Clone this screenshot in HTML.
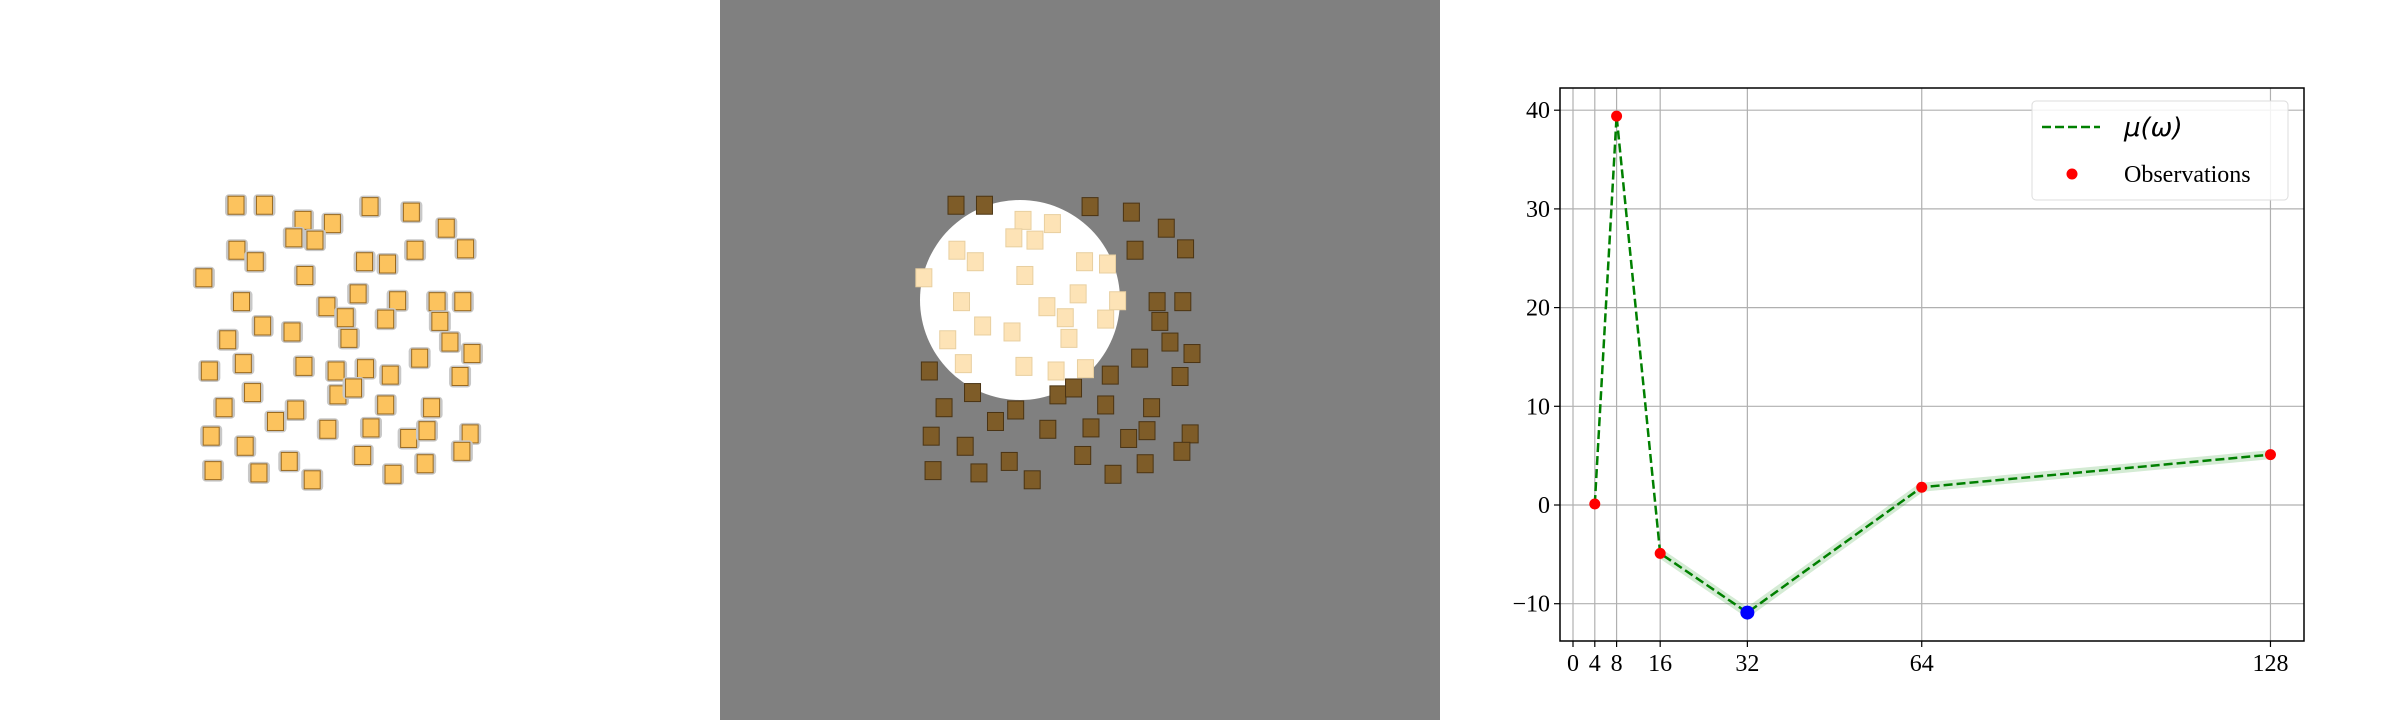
<!DOCTYPE html>
<html><head><meta charset="utf-8"><style>
body{margin:0;width:2400px;height:720px;overflow:hidden;background:#fff;font-family:"Liberation Serif",serif}
</style></head><body>
<svg id="s" width="2400" height="720" xmlns="http://www.w3.org/2000/svg">
<rect x="0" y="0" width="720" height="720" fill="#fff"/>
<rect x="720" y="0" width="720" height="720" fill="#808080"/>
<g id="boxesA"></g>
<circle cx="1020" cy="300" r="100" fill="#fff"/>
<g id="boxesB"></g>
<g id="chart"></g>
</svg>
<script>
const boxPts=[[257,447],[288,447],[403,450],[448,462],[330,480],[362,487],[486,497],[320,518],[343,523],[258,545],[278,570],[507,542],[452,545],[397,570],[422,575],[222,605],[332,600],[263,657],[356,668],[390,640],[433,655],[476,657],[504,657],[376,692],[420,695],[479,700],[286,710],[318,723],[248,740],[380,737],[490,745],[514,770],[228,808],[265,792],[331,798],[366,808],[398,803],[425,817],[457,780],[501,820],[275,855],[368,860],[385,845],[244,888],[322,893],[420,882],[470,888],[300,918],[357,935],[404,932],[230,950],[445,955],[465,938],[512,945],[267,972],[395,992],[503,983],[232,1025],[282,1030],[315,1005],[340,1045],[428,1033],[463,1010]];
const NS="http://www.w3.org/2000/svg";
function mk(t,a,p){const e=document.createElementNS(NS,t);for(const k in a)e.setAttribute(k,a[k]);p.appendChild(e);return e;}
const gA=document.getElementById('boxesA'),gB=document.getElementById('boxesB');
boxPts.forEach(([zx,zy])=>{
 const x=zx/1.089,y=zy/2.178;
 const h=mk('rect',{x:x-11,y:y-11,width:22,height:22,rx:4,fill:'#c8c8c8'},gA);
 
 
 const r=mk('rect',{x:x-8,y:y-9,width:16,height:18,fill:'#fcc35e',stroke:'#9a6a20','stroke-width':1},gA);
 
 
 const bx=x+720,inside=Math.hypot(bx-1020,y-300)<100;
 const r2=mk('rect',{x:bx-8,y:y-9,width:16,height:18,fill:inside?'#fde3b6':'#7e5c28',stroke:inside?'#e8cfa0':'#4a3414','stroke-width':1},gB);
 
 
});

const xVals=[4,8,16,32,64,128];
const yVals=[0.1,39.4,-4.9,-10.9,1.8,5.1];
const xTicks=[0,4,8,16,32,64,128];
const yTicks=[-10,0,10,20,30,40];
const L=1560,R=2304,T=88,B=641;
const X=v=>1573+v*5.449, Y=v=>603.7-(v+10)*9.87;
const c=document.getElementById('chart');
xTicks.forEach(t=>{const l=mk('line',{x1:X(t),x2:X(t),y1:T,y2:B,stroke:'#b0b0b0','stroke-width':1.2},c);
 const k=mk('line',{x1:X(t),x2:X(t),y1:B,y2:B+6,stroke:'#000','stroke-width':1.2},c);
 const tx=mk('text',{x:X(t),y:B+30,'text-anchor':'middle','font-size':24,'font-family':'Liberation Serif, serif'},c);tx.textContent=t;});
yTicks.forEach(t=>{const l=mk('line',{x1:L,x2:R,y1:Y(t),y2:Y(t),stroke:'#b0b0b0','stroke-width':1.2},c);
 const k=mk('line',{x1:L-6,x2:L,y1:Y(t),y2:Y(t),stroke:'#000','stroke-width':1.2},c);
 const tx=mk('text',{x:L-10,y:Y(t)+8,'text-anchor':'end','font-size':24,'font-family':'Liberation Serif, serif'},c);tx.textContent=t<0?'\u2212'+(-t):t;});
const band=mk('polyline',{points:xVals.slice(2).map((v,i)=>X(v)+','+Y(yVals[i+2])).join(' '),fill:'none',stroke:'#2a9a2a','stroke-opacity':0.2,'stroke-width':9},c);

const ln=mk('polyline',{points:xVals.map((v,i)=>X(v)+','+Y(yVals[i])).join(' '),fill:'none',stroke:'#008000','stroke-width':2.5,'stroke-dasharray':'9,4'},c);

xVals.forEach((v,i)=>{const p=mk('circle',{cx:X(v),cy:Y(yVals[i]),r:i===3?7:5.5,fill:i===3?'#0000ff':'#ff0000'},c);});
const fr=mk('rect',{x:L,y:T,width:R-L,height:B-T,fill:'none',stroke:'#000','stroke-width':1.5},c);
const lg=mk('g',{},c);
mk('rect',{x:2032,y:101,width:256,height:99,rx:4,fill:'#fff','fill-opacity':0.85,stroke:'#ddd'},lg);
const ll=mk('line',{x1:2042,x2:2100,y1:127,y2:127,stroke:'#008000','stroke-width':2.5,'stroke-dasharray':'9,4'},lg);
const t1=mk('text',{x:2124,y:136,'font-size':26,'font-family':'DejaVu Sans, sans-serif','font-style':'italic'},lg);t1.textContent='\u03bc(\u03c9)';
const ld=mk('circle',{cx:2072,cy:174,r:5.5,fill:'#ff0000'},lg);
const t2=mk('text',{x:2124,y:182,'font-size':24,'font-family':'Liberation Serif, serif'},lg);t2.textContent='Observations';
</script>
</body></html>
